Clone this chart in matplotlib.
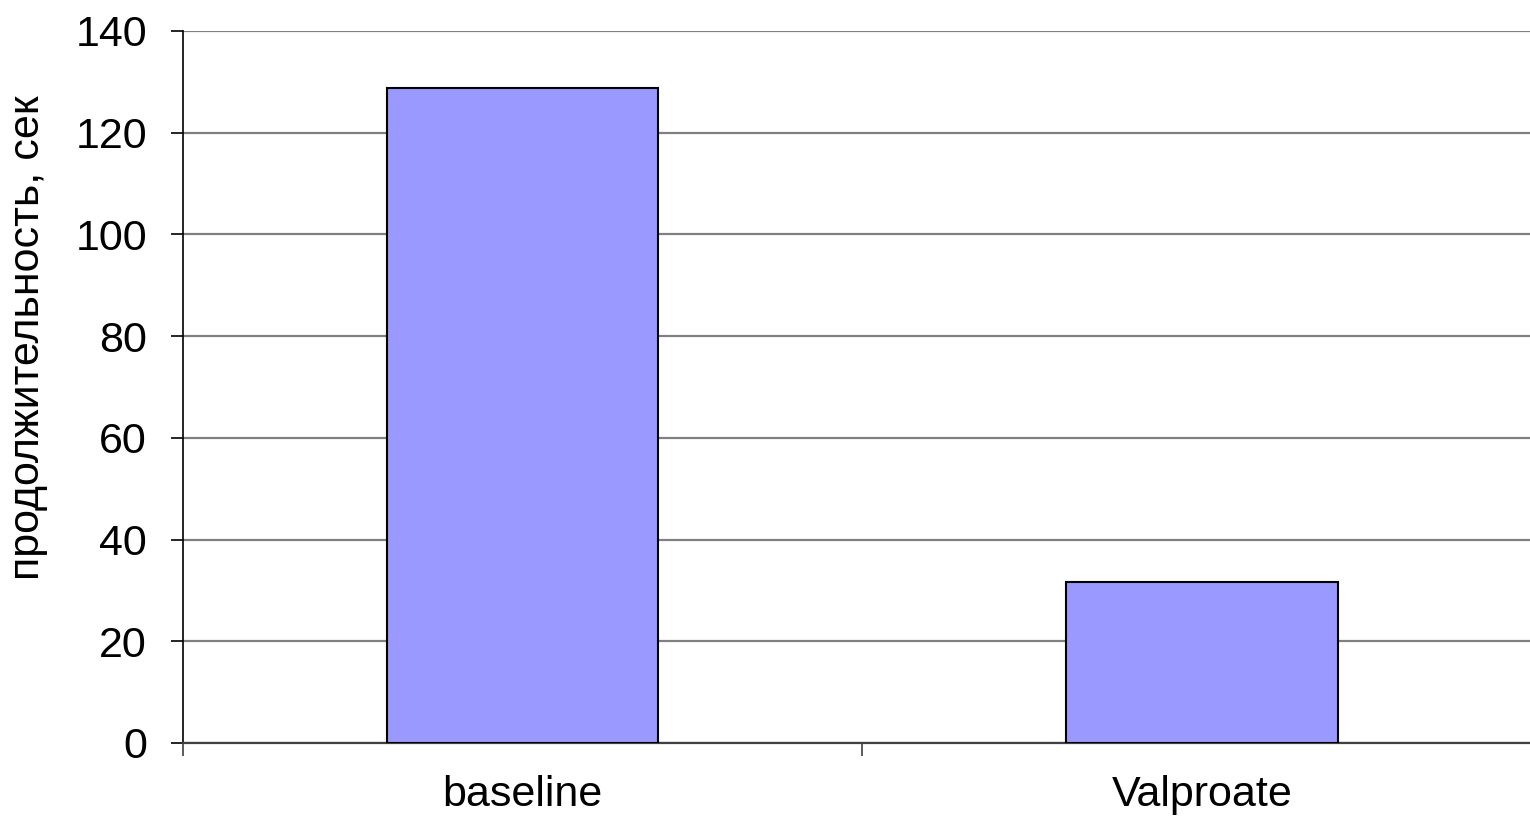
import matplotlib
matplotlib.use("Agg")
import matplotlib.pyplot as plt
from matplotlib.ticker import FixedLocator, NullFormatter

categories = ["baseline", "Valproate"]
values = [128.8, 31.6]
yticks = [0, 20, 40, 60, 80, 100, 120, 140]
ylabel = "продолжительность, сек"

plt.rcParams['font.family'] = ['Liberation Sans', 'DejaVu Sans']

fig = plt.figure(figsize=(15.3, 8.18), dpi=100)
ax = fig.add_axes([183/1530, 1 - 743/818, (1541.5 - 183)/1530, (743 - 31)/818])

x = list(range(len(categories)))
ax.bar(x, values, width=0.4, color="#9999FF", edgecolor="black", linewidth=1.5, zorder=3)

ax.set_xlim(-0.5, len(categories) - 0.5)
ax.set_ylim(0, 140)
ax.set_yticks(yticks)
ax.yaxis.grid(True, color="#808080", linewidth=1.6, zorder=0)
ax.set_axisbelow(True)

# major ticks at category boundaries, labels at centers
ax.xaxis.set_major_locator(FixedLocator([-0.5, 0.5, 1.5]))
ax.xaxis.set_major_formatter(NullFormatter())
ax.xaxis.set_minor_locator(FixedLocator(x))
ax.set_xticklabels(categories, minor=True)
ax.tick_params(axis="x", which="minor", length=0, pad=23, labelsize=31)
ax.tick_params(axis="x", which="major", length=9, width=1.2, color="#404040", direction="out")
ax.tick_params(axis="y", length=9, width=1.2, direction="out", pad=17, labelsize=31)

for s in ["top", "right"]:
    ax.spines[s].set_visible(False)
ax.spines["left"].set_color("black")
ax.spines["left"].set_linewidth(1.2)
ax.spines["bottom"].set_color("#404040")
ax.spines["bottom"].set_linewidth(1.6)

ax.set_ylabel(ylabel, fontsize=31)
ax.yaxis.set_label_coords(-(183 - 48)/(1541.5 - 183), (743 - 338)/(743 - 31))

fig.savefig("out.png", dpi=100)
